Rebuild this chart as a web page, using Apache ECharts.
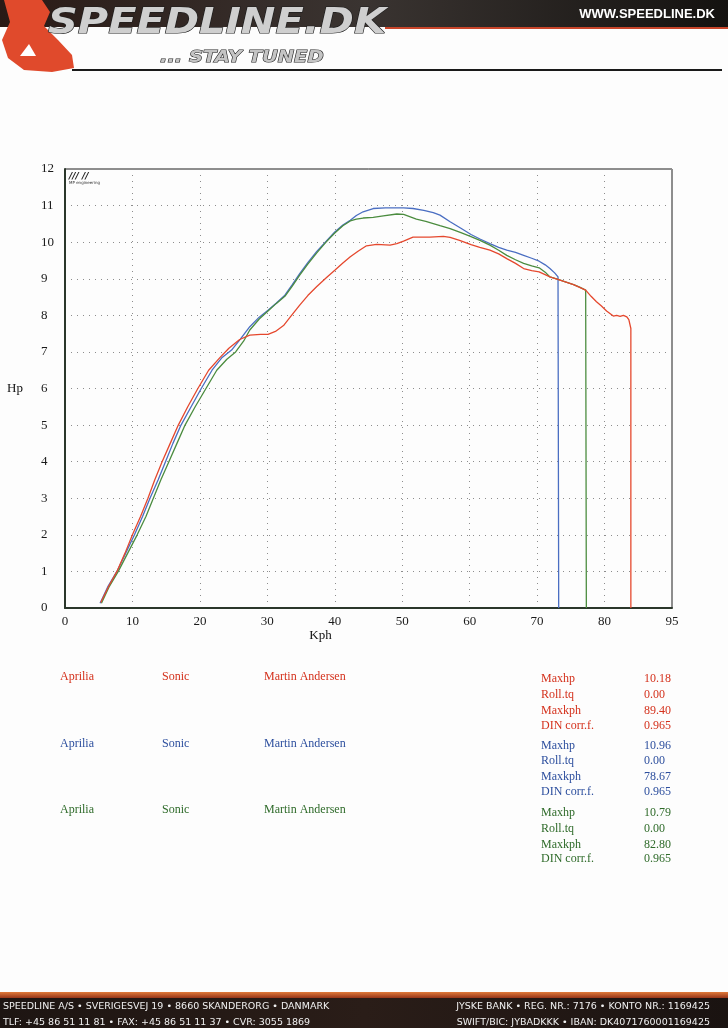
<!DOCTYPE html>
<html>
<head>
<meta charset="utf-8">
<script src="https://cdn.jsdelivr.net/npm/echarts@6/dist/echarts.min.js"></script>
<style>
html,body{margin:0;padding:0;background:#fdfdfd;}
#chart{width:728px;height:1028px;}
</style>
</head>
<body>
<div id="chart"></div>
<script>
// ---- data (kph, hp) read from the dyno sheet ----
const redCurve = [[5.3,0.15],[6.5,0.6],[7.7,1.0],[8.9,1.5],[10.0,2.0],[11.2,2.5],[12.3,3.0],[13.3,3.5],[14.4,4.0],[15.6,4.5],[16.8,5.0],[18.2,5.5],[19.7,6.0],[21.3,6.5],[23.0,6.85],[24.3,7.1],[25.9,7.34],[27.4,7.46],[29.0,7.48],[30.1,7.48],[31.2,7.56],[32.4,7.72],[33.5,7.98],[34.8,8.28],[36.0,8.54],[37.3,8.78],[38.7,9.02],[40.0,9.23],[41.2,9.43],[42.3,9.6],[43.5,9.76],[44.7,9.9],[46.2,9.94],[48.2,9.92],[49.2,9.96],[50.2,10.03],[51.6,10.14],[54.1,10.14],[56.1,10.16],[57.1,10.13],[58.5,10.05],[60.2,9.93],[61.5,9.86],[63.0,9.78],[64.3,9.68],[65.5,9.55],[66.8,9.42],[68.0,9.28],[69.2,9.22],[70.3,9.19],[71.9,9.05],[73.4,8.96],[75.4,8.84],[77.2,8.69],[78.0,8.52],[78.8,8.37],[79.5,8.26],[80.3,8.12],[81.3,7.98],[81.8,8.0],[82.3,7.97],[82.8,8.0],[83.3,7.96],[83.6,7.88],[83.9,7.64],[83.9,0]];
const blueCurve = [[5.2,0.13],[6.4,0.6],[7.7,1.0],[9.0,1.5],[10.3,2.0],[11.5,2.5],[12.6,3.0],[13.8,3.5],[14.9,4.0],[16.0,4.5],[17.2,5.0],[18.7,5.5],[20.2,6.0],[21.8,6.5],[23.3,6.85],[24.7,7.05],[26.0,7.35],[27.4,7.69],[28.8,7.95],[30.1,8.14],[31.3,8.33],[32.6,8.55],[33.7,8.84],[34.8,9.14],[36.0,9.44],[37.3,9.74],[38.7,10.02],[40.0,10.28],[41.2,10.47],[42.3,10.6],[43.2,10.73],[44.2,10.83],[45.7,10.92],[47.5,10.94],[50.2,10.94],[51.6,10.92],[53.2,10.87],[54.6,10.81],[55.6,10.74],[57.1,10.56],[58.7,10.38],[60.2,10.21],[61.6,10.08],[63.0,9.96],[64.3,9.86],[65.5,9.78],[66.8,9.72],[68.0,9.64],[69.2,9.56],[70.3,9.48],[71.2,9.38],[71.9,9.28],[72.6,9.16],[73.1,9.05],[73.2,0]];
const greenCurve = [[5.4,0.13],[6.6,0.6],[7.9,1.0],[9.3,1.5],[10.7,2.0],[12.0,2.5],[13.1,3.0],[14.2,3.5],[15.4,4.0],[16.6,4.5],[17.8,5.0],[19.3,5.5],[20.9,6.0],[22.5,6.5],[24.0,6.8],[25.3,7.0],[26.5,7.3],[27.4,7.6],[28.8,7.9],[30.1,8.12],[31.3,8.32],[32.6,8.52],[33.7,8.8],[34.8,9.1],[36.0,9.4],[37.3,9.7],[38.7,10.0],[40.0,10.25],[41.2,10.45],[42.3,10.58],[43.2,10.63],[44.2,10.66],[45.7,10.68],[47.2,10.72],[49.2,10.77],[50.2,10.76],[51.1,10.7],[52.1,10.63],[53.5,10.57],[54.6,10.51],[55.6,10.45],[57.1,10.37],[58.7,10.26],[60.2,10.15],[61.6,10.04],[63.0,9.92],[64.3,9.78],[65.5,9.64],[66.8,9.52],[68.0,9.42],[69.2,9.35],[70.3,9.3],[71.2,9.18],[71.9,9.05],[73.1,8.98],[74.3,8.91],[75.4,8.84],[76.3,8.77],[77.2,8.69],[77.3,0]];

const xTickLabels = ['0','10','20','30','40','50','60','70','80','95'];
const yTickLabels = ['0','1','2','3','4','5','6','7','8','9','10','11','12'];

const runMake = ['Aprilia','Aprilia','Aprilia'];
const runModel = ['Sonic','Sonic','Sonic'];
const runRider = ['Martin Andersen','Martin Andersen','Martin Andersen'];
const statNames = ['Maxhp','Roll.tq','Maxkph','DIN corr.f.'];
const statRed = ['10.18','0.00','89.40','0.965'];
const statBlue = ['10.96','0.00','78.67','0.965'];
const statGreen = ['10.79','0.00','82.80','0.965'];

const footerLeft = ['SPEEDLINE A/S \u2022 SVERIGESVEJ 19 \u2022 8660 SKANDERORG \u2022 DANMARK','TLF: +45 86 51 11 81 \u2022 FAX: +45 86 51 11 37 \u2022 CVR: 3055 1869'];
const footerRight = ['JYSKE BANK \u2022 REG. NR.: 7176 \u2022 KONTO NR.: 1169425','SWIFT/BIC: JYBADKKK \u2022 IBAN: DK4071760001169425'];

// ---- styling ----
const lineColors = ['#4a6ec2','#4b8c3f','#e5482e'];
const textColors = ['#d4311c','#2d4f9e','#2f6b2a'];
const serif = '"Liberation Serif","Times New Roman",serif';

const chart = echarts.init(document.getElementById('chart'), null, {renderer:'canvas'});

const graphics = [];
// header band
graphics.push({type:'rect', shape:{x:0,y:0,width:728,height:27}, style:{fill:new echarts.graphic.LinearGradient(0,0,1,0,[{offset:0,color:'#2a1a16'},{offset:0.5,color:'#3a3431'},{offset:1,color:'#141210'}])}});
graphics.push({type:'rect', shape:{x:385,y:27,width:343,height:2}, style:{fill:'#c8452a'}});
graphics.push({type:'rect', shape:{x:72,y:69,width:650,height:2}, style:{fill:'#1a1a1a'}});
// rider silhouette
graphics.push({type:'polygon', shape:{points:[[4,0],[42,0],[50,12],[44,26],[58,40],[72,55],[74,68],[52,72],[24,70],[8,58],[2,40],[10,22]]}, style:{fill:'#e04a2c'}});
graphics.push({type:'polygon', shape:{points:[[20,56],[29,44],[36,56]]}, style:{fill:'#ffffff'}});
graphics.push({type:'text', x:48, y:24, scaleX:1.15, style:{text:'SPEEDLINE.DK', font:'italic bold 36px "DejaVu Sans"', fill:'#cfcfcf', stroke:'#1e1e1e', lineWidth:1.2, verticalAlign:'middle'}});
graphics.push({type:'text', x:160, y:58, scaleX:1.3, style:{text:'... STAY TUNED', font:'italic bold 15px "DejaVu Sans"', fill:'#c4c4c4', stroke:'#1e1e1e', lineWidth:1, verticalAlign:'middle'}});
graphics.push({type:'text', x:715, y:14, style:{text:'WWW.SPEEDLINE.DK', font:'bold 13px "Liberation Sans Narrow","Liberation Sans"', fill:'#ffffff', align:'right', verticalAlign:'middle'}});
// tiny logo inside plot
graphics.push({type:'text', x:69, y:172, style:{text:'/// //', font:'italic bold 9px "DejaVu Sans"', fill:'#222', verticalAlign:'top'}});
graphics.push({type:'text', x:69, y:181, style:{text:'MP engineering', font:'4px "DejaVu Sans"', fill:'#333', verticalAlign:'top'}});

// legend / result table
const rowY = [677, 744, 810];
const statY = [[679,695,711,726],[746,761,777,792],[813,829,845,859]];
const stats = [statRed, statBlue, statGreen];
for (let r=0;r<3;r++){
  const c = textColors[r];
  const f = '12px ' + serif;
  graphics.push({type:'text', x:60, y:rowY[r], style:{text:runMake[r], font:f, fill:c, verticalAlign:'middle'}});
  graphics.push({type:'text', x:162, y:rowY[r], style:{text:runModel[r], font:f, fill:c, verticalAlign:'middle'}});
  graphics.push({type:'text', x:264, y:rowY[r], style:{text:runRider[r], font:f, fill:c, verticalAlign:'middle'}});
  for (let k=0;k<4;k++){
    graphics.push({type:'text', x:541, y:statY[r][k], style:{text:statNames[k], font:f, fill:c, verticalAlign:'middle'}});
    graphics.push({type:'text', x:644, y:statY[r][k], style:{text:stats[r][k], font:f, fill:c, verticalAlign:'middle'}});
  }
}
// footer
graphics.push({type:'rect', shape:{x:0,y:992,width:728,height:7}, style:{fill:new echarts.graphic.LinearGradient(0,0,0,1,[{offset:0,color:'#e07a3a'},{offset:1,color:'#8a2a14'}])}});
graphics.push({type:'rect', shape:{x:0,y:998,width:728,height:30}, style:{fill:new echarts.graphic.LinearGradient(0,0,1,0,[{offset:0,color:'#1d1512'},{offset:0.5,color:'#2a1d18'},{offset:1,color:'#1a1311'}])}});
for (let i=0;i<2;i++){
  graphics.push({type:'text', x:3, y:1007+i*16, style:{text:footerLeft[i], font:'9.5px "DejaVu Sans"', fill:'#f0f0f0', verticalAlign:'middle'}});
  graphics.push({type:'text', x:710, y:1007+i*16, style:{text:footerRight[i], font:'9.5px "DejaVu Sans"', fill:'#f0f0f0', align:'right', verticalAlign:'middle'}});
}

const option = {
  backgroundColor:'#fdfdfd',
  animation:false,
  grid:{left:65, top:169, right:56, bottom:420, show:true, borderColor:'#1e1e1e', borderWidth:1, backgroundColor:'transparent'},
  xAxis:{
    type:'value', min:0, max:90, interval:10,
    name:'Kph', nameLocation:'middle', nameGap:20,
    nameTextStyle:{fontFamily:serif, fontSize:13, color:'#111', padding:[0,96,0,0]},
    axisLine:{show:true, lineStyle:{color:'#2b372b', width:2}},
    axisTick:{show:false},
    axisLabel:{show:true, showMinLabel:true, showMaxLabel:true, margin:7, fontFamily:serif, fontSize:13, color:'#1a1a1a',
      formatter:(v)=>xTickLabels[Math.round(v/10)]},
    splitLine:{show:true, lineStyle:{color:'#8d8d8d', width:1, type:[1,5]}}
  },
  yAxis:{
    type:'value', min:0, max:12, interval:1,
    name:'Hp', nameLocation:'middle', nameGap:42, nameRotate:0,
    nameTextStyle:{fontFamily:serif, fontSize:13, color:'#111', padding:[0,0,12,0]},
    axisLine:{show:true, lineStyle:{color:'#2b372b', width:2}},
    axisTick:{show:false},
    axisLabel:{show:true, margin:24, align:'left', fontFamily:serif, fontSize:13, color:'#1a1a1a', padding:[7,0,0,0],
      formatter:(v)=>yTickLabels[Math.round(v)]},
    splitLine:{show:true, lineStyle:{color:'#8d8d8d', width:1, type:[1,5]}}
  },
  series:[
    {name:'Blue run', type:'line', data:blueCurve, showSymbol:false, lineStyle:{color:lineColors[0], width:1.3}, z:2},
    {name:'Green run', type:'line', data:greenCurve, showSymbol:false, lineStyle:{color:lineColors[1], width:1.3}, z:3},
    {name:'Red run', type:'line', data:redCurve, showSymbol:false, lineStyle:{color:lineColors[2], width:1.3}, z:4}
  ],
  graphic:graphics
};
chart.setOption(option);
</script>
</body>
</html>
